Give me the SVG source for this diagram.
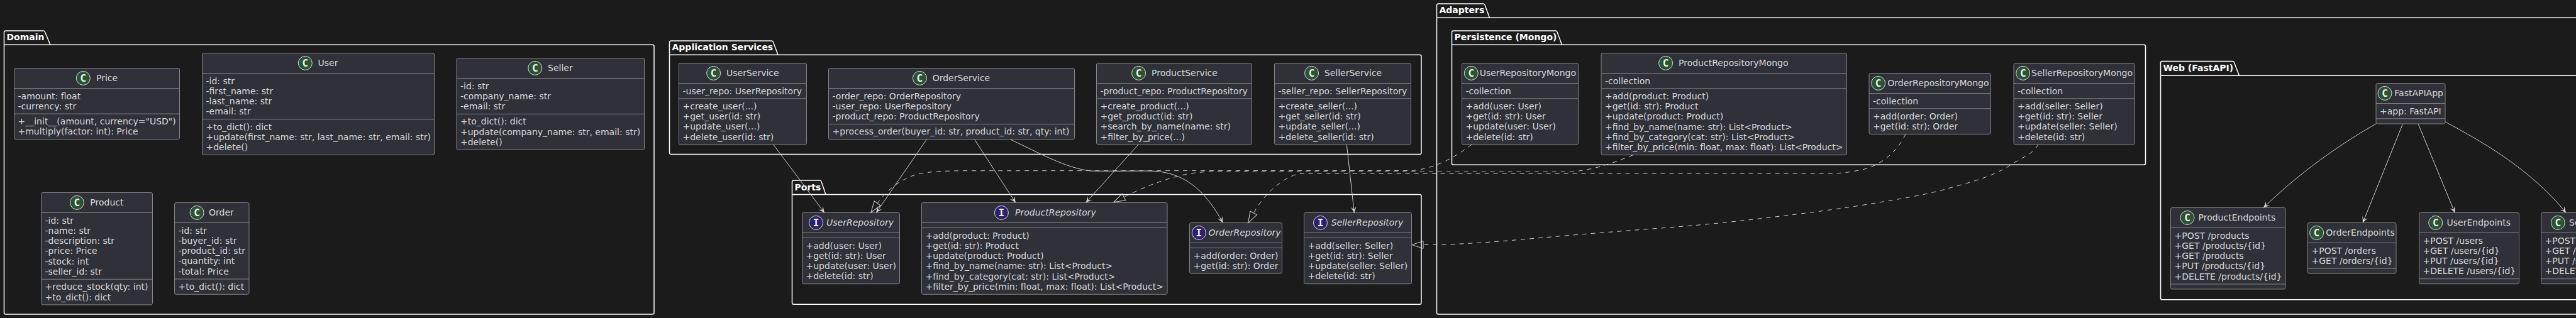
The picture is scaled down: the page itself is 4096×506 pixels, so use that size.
<svg xmlns="http://www.w3.org/2000/svg" width="4096" height="506" viewBox="0 0 4096 506">
<style>
text{font-family:"DejaVu Sans",sans-serif;font-size:14px;fill:#d9d9d9}
.t{font-weight:bold;fill:#ffffff}
.i{font-style:italic}
.s{font-family:"DejaVu Sans Mono",monospace;font-weight:bold;font-size:16px;fill:#f2f2f2;text-anchor:middle}
.p{fill:none;stroke:#ffffff;stroke-width:1.5}
.b{fill:#2f3038;stroke:#858585;stroke-width:1}
.l{stroke:#858585;stroke-width:1}
.cc{fill:#2a5233;stroke:#dcdcdc;stroke-width:1}
.ci{fill:#2e2070;stroke:#dcdcdc;stroke-width:1}
.e{fill:none;stroke:#d0d0d0;stroke-width:1;marker-end:url(#open)}
.d{fill:none;stroke:#d0d0d0;stroke-width:1;stroke-dasharray:7,7;marker-end:url(#tri)}
</style>
<defs>
<marker id="open" markerUnits="userSpaceOnUse" viewBox="0 0 12 12" refX="11" refY="6" markerWidth="12" markerHeight="12" orient="auto"><path d="M11,6 L1.5,1.5 L6,6 L1.5,10.5 Z" fill="#d8d8d8"/></marker>
<marker id="tri" markerUnits="userSpaceOnUse" viewBox="0 0 22 16" refX="1" refY="8" markerWidth="22" markerHeight="16" orient="auto"><path d="M1,2 L19,8 L1,14 Z" fill="none" stroke="#d0d0d0" stroke-width="1"/></marker>
</defs>
<rect width="4096" height="506" fill="#1b1b1b"/>

<g id="pkg-domain"><path class="p" d="M6.5,71.3 V51.5 A2.5,2.5 0 0 1 9,49 H69 A2.5,2.5 0 0 1 71.5,51 L80,71.3 M6.5,71.3 H1037.5 A2.5,2.5 0 0 1 1040,73.8 V497.5 A2.5,2.5 0 0 1 1037.5,500 H9 A2.5,2.5 0 0 1 6.5,497.5 V71.3"/><text class="t" x="10.5" y="64">Domain</text></g>
<g id="pkg-application"><path class="p" d="M1064.5,87.3 V67.5 A2.5,2.5 0 0 1 1067,65 H1227 A2.5,2.5 0 0 1 1229.5,67 L1237,87.3 M1064.5,87.3 H2257.5 A2.5,2.5 0 0 1 2260,89.8 V243 A2.5,2.5 0 0 1 2257.5,245.5 H1067 A2.5,2.5 0 0 1 1064.5,243 V87.3"/><text class="t" x="1068.5" y="80.3">Application Services</text></g>
<g id="pkg-ports"><path class="p" d="M1259.5,309.5 V289.5 A2.5,2.5 0 0 1 1262,287 H1303.5 A2.5,2.5 0 0 1 1306,289 L1313,309.5 M1259.5,309.5 H2257.5 A2.5,2.5 0 0 1 2260,312 V481.8 A2.5,2.5 0 0 1 2257.5,484.3 H1262 A2.5,2.5 0 0 1 1259.5,481.8 V309.5"/><text class="t" x="1263.5" y="302.5">Ports</text></g>
<g id="pkg-adapters"><path class="p" d="M2284.5,28.3 V8.5 A2.5,2.5 0 0 1 2287,6 H2358.5 A2.5,2.5 0 0 1 2361,8 L2368.5,28.3 M2284.5,28.3 H4110 M4110,500 H2287 A2.5,2.5 0 0 1 2284.5,497.5 V28.3"/><text class="t" x="2288.5" y="21.3">Adapters</text></g>
<g id="pkg-persistence"><path class="p" d="M2308.5,71.3 V51.5 A2.5,2.5 0 0 1 2311,49 H2473.5 A2.5,2.5 0 0 1 2476,51 L2483.5,71.3 M2308.5,71.3 H3409 A2.5,2.5 0 0 1 3411.5,73.8 V259.8 A2.5,2.5 0 0 1 3409,262.3 H2311 A2.5,2.5 0 0 1 2308.5,259.8 V71.3"/><text class="t" x="2312.5" y="64.3">Persistence (Mongo)</text></g>
<g id="pkg-web"><path class="p" d="M3435.5,120.3 V100 A2.5,2.5 0 0 1 3438,97.5 H3550 A2.5,2.5 0 0 1 3552.5,99.5 L3560.5,120.3 M3435.5,120.3 H4110 M4110,476.7 H3438 A2.5,2.5 0 0 1 3435.5,474.2 V120.3"/><text class="t" x="3439.5" y="113.3">Web (FastAPI)</text></g>

<g id="Price"><rect class="b" x="22.5" y="108.5" width="263" height="113" rx="2.5"/><path class="l" d="M22.5,140.5 H285.5 M22.5,181.1 H285.5"/><circle class="cc" cx="132.3" cy="124.4" r="11"/><text class="s" x="132.3" y="130.2">C</text><text x="153" y="129.3">Price</text><text x="28.5" y="157.5">-amount: float</text><text x="28.5" y="173.8">-currency: str</text><text x="28.5" y="198.1">+__init__(amount, currency="USD")</text><text x="28.5" y="214.4">+multiply(factor: int): Price</text></g>
<g id="User"><rect class="b" x="321.5" y="84.5" width="369" height="162" rx="2.5"/><path class="l" d="M321.5,116.5 H690.5 M321.5,189.7 H690.5"/><circle class="cc" cx="485.3" cy="100.4" r="11"/><text class="s" x="485.3" y="106.2">C</text><text x="505.5" y="105.3">User</text><text x="327.5" y="133.5">-id: str</text><text x="327.5" y="149.8">-first_name: str</text><text x="327.5" y="166.1">-last_name: str</text><text x="327.5" y="182.4">-email: str</text><text x="327.5" y="206.7">+to_dict(): dict</text><text x="327.5" y="223">+update(first_name: str, last_name: str, email: str)</text><text x="327.5" y="239.3">+delete()</text></g>
<g id="Seller"><rect class="b" x="726" y="92.5" width="298.5" height="145.8" rx="2.5"/><path class="l" d="M726,124.5 H1024.5 M726,181.4 H1024.5"/><circle class="cc" cx="850.8" cy="108.4" r="11"/><text class="s" x="850.8" y="114.2">C</text><text x="871" y="113.3">Seller</text><text x="732" y="141.5">-id: str</text><text x="732" y="157.8">-company_name: str</text><text x="732" y="174.1">-email: str</text><text x="732" y="198.4">+to_dict(): dict</text><text x="732" y="214.7">+update(company_name: str, email: str)</text><text x="732" y="231">+delete()</text></g>
<g id="Product"><rect class="b" x="65.5" y="306.5" width="177" height="178.4" rx="2.5"/><path class="l" d="M65.5,338.5 H242.5 M65.5,444.3 H242.5"/><circle class="cc" cx="122.4" cy="322.4" r="11"/><text class="s" x="122.4" y="328.2">C</text><text x="143.3" y="327.3">Product</text><text x="71.5" y="355.5">-id: str</text><text x="71.5" y="371.8">-name: str</text><text x="71.5" y="388.1">-description: str</text><text x="71.5" y="404.4">-price: Price</text><text x="71.5" y="420.7">-stock: int</text><text x="71.5" y="437">-seller_id: str</text><text x="71.5" y="461.3">+reduce_stock(qty: int)</text><text x="71.5" y="477.6">+to_dict(): dict</text></g>
<g id="Order"><rect class="b" x="277.5" y="322.5" width="118.5" height="145.8" rx="2.5"/><path class="l" d="M277.5,354.5 H396 M277.5,444 H396"/><circle class="cc" cx="313.1" cy="338.4" r="11"/><text class="s" x="313.1" y="344.2">C</text><text x="332" y="343.3">Order</text><text x="283.5" y="371.5">-id: str</text><text x="283.5" y="387.8">-buyer_id: str</text><text x="283.5" y="404.1">-product_id: str</text><text x="283.5" y="420.4">-quantity: int</text><text x="283.5" y="436.7">-total: Price</text><text x="283.5" y="461">+to_dict(): dict</text></g>

<g id="UserService"><rect class="b" x="1079.5" y="100.5" width="203" height="129.5" rx="2.5"/><path class="l" d="M1079.5,132.5 H1282.5 M1079.5,156.8 H1282.5"/><circle class="cc" cx="1134.6" cy="116.4" r="11"/><text class="s" x="1134.6" y="122.2">C</text><text x="1155" y="121.3">UserService</text><text x="1085.5" y="149.5">-user_repo: UserRepository</text><text x="1085.5" y="173.8">+create_user(...)</text><text x="1085.5" y="190.1">+get_user(id: str)</text><text x="1085.5" y="206.4">+update_user(...)</text><text x="1085.5" y="222.7">+delete_user(id: str)</text></g>
<g id="OrderService"><rect class="b" x="1317.5" y="108.5" width="391" height="113.2" rx="2.5"/><path class="l" d="M1317.5,140.5 H1708.5 M1317.5,197.4 H1708.5"/><circle class="cc" cx="1462.4" cy="124.4" r="11"/><text class="s" x="1462.4" y="130.2">C</text><text x="1482.7" y="129.3">OrderService</text><text x="1323.5" y="157.5">-order_repo: OrderRepository</text><text x="1323.5" y="173.8">-user_repo: UserRepository</text><text x="1323.5" y="190.1">-product_repo: ProductRepository</text><text x="1323.5" y="214.4">+process_order(buyer_id: str, product_id: str, qty: int)</text></g>
<g id="ProductService"><rect class="b" x="1743.5" y="100.5" width="247" height="129.5" rx="2.5"/><path class="l" d="M1743.5,132.5 H1990.5 M1743.5,156.8 H1990.5"/><circle class="cc" cx="1810.6" cy="116.4" r="11"/><text class="s" x="1810.6" y="122.2">C</text><text x="1831" y="121.3">ProductService</text><text x="1749.5" y="149.5">-product_repo: ProductRepository</text><text x="1749.5" y="173.8">+create_product(...)</text><text x="1749.5" y="190.1">+get_product(id: str)</text><text x="1749.5" y="206.4">+search_by_name(name: str)</text><text x="1749.5" y="222.7">+filter_by_price(...)</text></g>
<g id="SellerService"><rect class="b" x="2026.5" y="100.5" width="217" height="129.5" rx="2.5"/><path class="l" d="M2026.5,132.5 H2243.5 M2026.5,156.8 H2243.5"/><circle class="cc" cx="2085.5" cy="116.4" r="11"/><text class="s" x="2085.5" y="122.2">C</text><text x="2105.8" y="121.3">SellerService</text><text x="2032.5" y="149.5">-seller_repo: SellerRepository</text><text x="2032.5" y="173.8">+create_seller(...)</text><text x="2032.5" y="190.1">+get_seller(id: str)</text><text x="2032.5" y="206.4">+update_seller(...)</text><text x="2032.5" y="222.7">+delete_seller(id: str)</text></g>

<g id="UserRepository"><rect class="b" x="1275.5" y="338.5" width="155" height="113.2" rx="2.5"/><path class="l" d="M1275.5,370.5 H1430.5 M1275.5,378.5 H1430.5"/><circle class="ci" cx="1297.5" cy="354.4" r="11"/><text class="s" x="1297.5" y="360.2">I</text><text class="i" x="1314" y="359.3">UserRepository</text><text x="1281.5" y="395.5">+add(user: User)</text><text x="1281.5" y="411.8">+get(id: str): User</text><text x="1281.5" y="428.1">+update(user: User)</text><text x="1281.5" y="444.4">+delete(id: str)</text></g>
<g id="ProductRepository"><rect class="b" x="1465.5" y="322.5" width="390.5" height="145.8" rx="2.5"/><path class="l" d="M1465.5,354.5 H1856 M1465.5,362.5 H1856"/><circle class="ci" cx="1592.4" cy="338.4" r="11"/><text class="s" x="1592.4" y="344.2">I</text><text class="i" x="1614" y="343.3">ProductRepository</text><text x="1471.5" y="379.5">+add(product: Product)</text><text x="1471.5" y="395.8">+get(id: str): Product</text><text x="1471.5" y="412.1">+update(product: Product)</text><text x="1471.5" y="428.4">+find_by_name(name: str): List&lt;Product&gt;</text><text x="1471.5" y="444.7">+find_by_category(cat: str): List&lt;Product&gt;</text><text x="1471.5" y="461">+filter_by_price(min: float, max: float): List&lt;Product&gt;</text></g>
<g id="OrderRepository"><rect class="b" x="1891.5" y="354.5" width="147" height="80.6" rx="2.5"/><path class="l" d="M1891.5,386.5 H2038.5 M1891.5,394.5 H2038.5"/><circle class="ci" cx="1906.3" cy="370.4" r="11"/><text class="s" x="1906.3" y="376.2">I</text><text class="i" x="1921.5" y="375.3">OrderRepository</text><text x="1897.5" y="411.5">+add(order: Order)</text><text x="1897.5" y="427.8">+get(id: str): Order</text></g>
<g id="SellerRepository"><rect class="b" x="2073.5" y="338.5" width="171" height="113.2" rx="2.5"/><path class="l" d="M2073.5,370.5 H2244.5 M2073.5,378.5 H2244.5"/><circle class="ci" cx="2099.5" cy="354.4" r="11"/><text class="s" x="2099.5" y="360.2">I</text><text class="i" x="2116.7" y="359.3">SellerRepository</text><text x="2079.5" y="395.5">+add(seller: Seller)</text><text x="2079.5" y="411.8">+get(id: str): Seller</text><text x="2079.5" y="428.1">+update(seller: Seller)</text><text x="2079.5" y="444.4">+delete(id: str)</text></g>

<g id="UserRepositoryMongo"><rect class="b" x="2324.5" y="100.5" width="185" height="129.5" rx="2.5"/><path class="l" d="M2324.5,132.5 H2509.5 M2324.5,156.8 H2509.5"/><circle class="cc" cx="2339.3" cy="116.4" r="11"/><text class="s" x="2339.3" y="122.2">C</text><text x="2352.7" y="121.3">UserRepositoryMongo</text><text x="2330.5" y="149.5">-collection</text><text x="2330.5" y="173.8">+add(user: User)</text><text x="2330.5" y="190.1">+get(id: str): User</text><text x="2330.5" y="206.4">+update(user: User)</text><text x="2330.5" y="222.7">+delete(id: str)</text></g>
<g id="ProductRepositoryMongo"><rect class="b" x="2546" y="84.5" width="390.5" height="162.1" rx="2.5"/><path class="l" d="M2546,116.5 H2936.5 M2546,140.8 H2936.5"/><circle class="cc" cx="2648.6" cy="100.4" r="11"/><text class="s" x="2648.6" y="106.2">C</text><text x="2669" y="105.3">ProductRepositoryMongo</text><text x="2552" y="133.5">-collection</text><text x="2552" y="157.8">+add(product: Product)</text><text x="2552" y="174.1">+get(id: str): Product</text><text x="2552" y="190.4">+update(product: Product)</text><text x="2552" y="206.7">+find_by_name(name: str): List&lt;Product&gt;</text><text x="2552" y="223">+find_by_category(cat: str): List&lt;Product&gt;</text><text x="2552" y="239.3">+filter_by_price(min: float, max: float): List&lt;Product&gt;</text></g>
<g id="OrderRepositoryMongo"><rect class="b" x="2972" y="116.5" width="193.5" height="96.9" rx="2.5"/><path class="l" d="M2972,148.5 H3165.5 M2972,172.8 H3165.5"/><circle class="cc" cx="2986.6" cy="132.4" r="11"/><text class="s" x="2986.6" y="138.2">C</text><text x="3001.3" y="137.3">OrderRepositoryMongo</text><text x="2978" y="165.5">-collection</text><text x="2978" y="189.8">+add(order: Order)</text><text x="2978" y="206.1">+get(id: str): Order</text></g>
<g id="SellerRepositoryMongo"><rect class="b" x="3202" y="100.5" width="192.5" height="129.5" rx="2.5"/><path class="l" d="M3202,132.5 H3394.5 M3202,156.8 H3394.5"/><circle class="cc" cx="3216.7" cy="116.4" r="11"/><text class="s" x="3216.7" y="122.2">C</text><text x="3230" y="121.3">SellerRepositoryMongo</text><text x="3208" y="149.5">-collection</text><text x="3208" y="173.8">+add(seller: Seller)</text><text x="3208" y="190.1">+get(id: str): Seller</text><text x="3208" y="206.4">+update(seller: Seller)</text><text x="3208" y="222.7">+delete(id: str)</text></g>

<g id="FastAPIApp"><rect class="b" x="3778" y="132.5" width="110" height="64.5" rx="2.5"/><path class="l" d="M3778,164.5 H3888 M3778,188.8 H3888"/><circle class="cc" cx="3792" cy="148.4" r="11"/><text class="s" x="3792" y="154.2">C</text><text x="3807.3" y="153.3">FastAPIApp</text><text x="3784" y="181.5">+app: FastAPI</text></g>
<g id="ProductEndpoints"><rect class="b" x="3451.5" y="330.5" width="182.5" height="129.5" rx="2.5"/><path class="l" d="M3451.5,362.5 H3634 M3451.5,452 H3634"/><circle class="cc" cx="3478" cy="346.4" r="11"/><text class="s" x="3478" y="352.2">C</text><text x="3495.5" y="351.3">ProductEndpoints</text><text x="3457.5" y="379.5">+POST /products</text><text x="3457.5" y="395.8">+GET /products/{id}</text><text x="3457.5" y="412.1">+GET /products</text><text x="3457.5" y="428.4">+PUT /products/{id}</text><text x="3457.5" y="444.7">+DELETE /products/{id}</text></g>
<g id="OrderEndpoints"><rect class="b" x="3669.5" y="354.5" width="140.5" height="80.6" rx="2.5"/><path class="l" d="M3669.5,386.5 H3810 M3669.5,427.1 H3810"/><circle class="cc" cx="3683.6" cy="370.4" r="11"/><text class="s" x="3683.6" y="376.2">C</text><text x="3698.3" y="375.3">OrderEndpoints</text><text x="3675.5" y="403.5">+POST /orders</text><text x="3675.5" y="419.8">+GET /orders/{id}</text></g>
<g id="UserEndpoints"><rect class="b" x="3846.5" y="338.5" width="159" height="113.2" rx="2.5"/><path class="l" d="M3846.5,370.5 H4005.5 M3846.5,443.7 H4005.5"/><circle class="cc" cx="3872.7" cy="354.4" r="11"/><text class="s" x="3872.7" y="360.2">C</text><text x="3890.5" y="359.3">UserEndpoints</text><text x="3852.5" y="387.5">+POST /users</text><text x="3852.5" y="403.8">+GET /users/{id}</text><text x="3852.5" y="420.1">+PUT /users/{id}</text><text x="3852.5" y="436.4">+DELETE /users/{id}</text></g>
<g id="SellerEndpoints"><rect class="b" x="4040.5" y="338.5" width="170" height="113.2" rx="2.5"/><path class="l" d="M4040.5,370.5 H4210.5 M4040.5,443.7 H4210.5"/><circle class="cc" cx="4067.3" cy="354.4" r="11"/><text class="s" x="4067.3" y="360.2">C</text><text x="4085" y="359.3">SellerEndpoints</text><text x="4046.5" y="387.5">+POST /sellers</text><text x="4046.5" y="403.8">+GET /sellers/{id}</text><text x="4046.5" y="420.1">+PUT /sellers/{id}</text><text x="4046.5" y="436.4">+DELETE /sellers/{id}</text></g>

<g id="connectors">
<path class="e" d="M1229.6,229.9 L1310.7,338.3"/>
<path class="e" d="M1473.5,221.7 L1393.3,338.3"/>
<path class="e" d="M1549.4,221.7 L1614.7,322.3"/>
<path class="e" d="M1606.7,222 C1650,242 1695,268 1735,272 C1760,272.5 1800,272 1826,272 C1880,272 1915,300 1944.3,354.3"/>
<path class="e" d="M1810,230 L1726.7,322.3"/>
<path class="e" d="M2141.3,230 L2153.3,338.5"/>
<path class="e" d="M3778.3,196.7 C3735,222 3670,262 3599.3,330.3"/>
<path class="e" d="M3820.3,197.7 L3757,354.3"/>
<path class="e" d="M3845.3,197.7 L3903.3,338.3"/>
<path class="e" d="M3888.3,194 C3940,222 4020,265 4080,338.3"/>
<path class="d" d="M2340,230 C2310,253 2280,268 2246,271.5 L1533,271.7 C1490,272 1465,274 1450,280 C1430,288 1412,300 1395.2,323.5"/>
<path class="d" d="M2596.7,246.7 C2570,257 2545,268 2500,273.5 L1920,273.5 C1880,274 1830,292 1787,313.5"/>
<path class="d" d="M3030,213.5 C3015,245 2985,268 2950,272 C2935,275 2925,276 2900,276 L2070,276 C2050,277 2015,300 1993.3,339"/>
<path class="d" d="M3241,230 C3231,247 3215,250 3195.7,263.3 C3165,283 3125,292 3090.9,301.7 C3060,310 3030,315 3000,320 C2920,334 2840,343 2765,351.7 C2680,361 2595,366 2510,373.3 C2425,380 2345,389.5 2263,389.5"/>
</g>
</svg>
